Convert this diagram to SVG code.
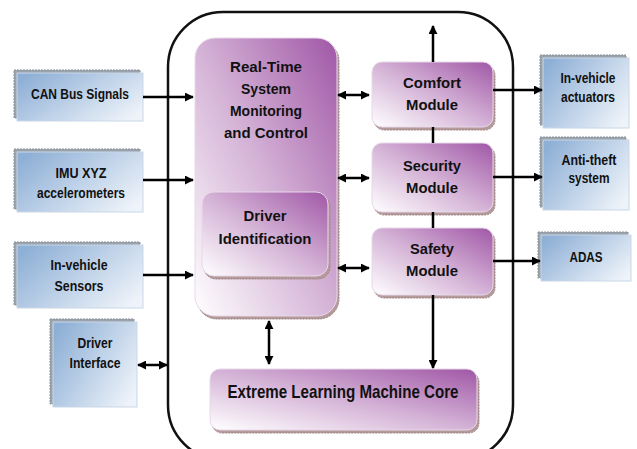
<svg xmlns="http://www.w3.org/2000/svg" width="637" height="449" viewBox="0 0 637 449">
<defs>
<linearGradient id="blue" x1="0" y1="0.2" x2="1" y2="0.8">
<stop offset="0" stop-color="#8fb0d6"/><stop offset="0.55" stop-color="#c3d5ea"/><stop offset="1" stop-color="#eef3f9"/>
</linearGradient>
<linearGradient id="purple" x1="1" y1="0" x2="0" y2="1">
<stop offset="0" stop-color="#a057a6"/><stop offset="0.5" stop-color="#d4b2d6"/><stop offset="1" stop-color="#ffffff"/>
</linearGradient>
<marker id="ah" viewBox="0 0 10 10" refX="9" refY="5" markerWidth="9" markerHeight="9" markerUnits="userSpaceOnUse" orient="auto-start-reverse">
<path d="M0,0 L10,5 L0,10 z" fill="#000"/>
</marker>
</defs>
<style>
.bsh{fill:#9aa3ad;stroke:#8a939c;stroke-width:1;stroke-dasharray:2 1}
.bx{fill:url(#blue);stroke:#c9d7e8;stroke-width:1}
.psh{fill:#b49a9a;stroke:#a08585;stroke-width:1;stroke-dasharray:2 1}
.px{fill:url(#purple);stroke:#e8d8ea;stroke-width:1}
text{font-family:"Liberation Sans",Arial,sans-serif;font-weight:bold;font-size:15.5px;fill:#111;text-anchor:middle}
.big{font-size:18.5px}
.c{fill:none;stroke:#000;stroke-width:2.5}
.a{marker-end:url(#ah)}
.d{marker-start:url(#ah);marker-end:url(#ah)}
</style>
<rect x="168" y="12" width="345" height="448" rx="55" fill="#fff" stroke="#111" stroke-width="2.5"/>
<g id="can">
<rect class="bsh" x="14" y="70" width="126" height="48"/>
<rect class="bx" x="17" y="73" width="126" height="48"/>
<text x="80" y="99" textLength="98" lengthAdjust="spacingAndGlyphs">CAN Bus Signals</text>
</g>
<g id="imu">
<rect class="bsh" x="14" y="149" width="126" height="60"/>
<rect class="bx" x="17" y="152" width="126" height="60"/>
<text x="81" y="178" textLength="51" lengthAdjust="spacingAndGlyphs">IMU XYZ</text>
<text x="81" y="198" textLength="88" lengthAdjust="spacingAndGlyphs">accelerometers</text>
</g>
<g id="sensors">
<rect class="bsh" x="14" y="242" width="126" height="63"/>
<rect class="bx" x="17" y="245" width="126" height="63"/>
<text x="79" y="270" textLength="57" lengthAdjust="spacingAndGlyphs">In-vehicle</text>
<text x="79" y="291" textLength="49" lengthAdjust="spacingAndGlyphs">Sensors</text>
</g>
<g id="driverif">
<rect class="bsh" x="50" y="319" width="84" height="85"/>
<rect class="bx" x="53" y="322" width="84" height="85"/>
<text x="95" y="348" textLength="35" lengthAdjust="spacingAndGlyphs">Driver</text>
<text x="95" y="368" textLength="51" lengthAdjust="spacingAndGlyphs">Interface</text>
</g>
<g id="rtsmc">
<rect class="psh" x="197" y="41" width="142" height="278" rx="20"/>
<rect class="px" x="195" y="38" width="142" height="278" rx="20"/>
<text x="266" y="72" textLength="72" lengthAdjust="spacingAndGlyphs">Real-Time</text>
<text x="266" y="94" textLength="50" lengthAdjust="spacingAndGlyphs">System</text>
<text x="266" y="116" textLength="72" lengthAdjust="spacingAndGlyphs">Monitoring</text>
<text x="266" y="138" textLength="84" lengthAdjust="spacingAndGlyphs">and Control</text>
</g>
<g id="driverid">
<rect class="psh" x="204" y="195" width="126" height="84" rx="12"/>
<rect class="px" x="202" y="192" width="126" height="84" rx="12"/>
<text x="265" y="221" textLength="43" lengthAdjust="spacingAndGlyphs">Driver</text>
<text x="265" y="244" textLength="93" lengthAdjust="spacingAndGlyphs">Identification</text>
</g>
<g id="comfort">
<rect class="psh" x="374" y="65" width="121" height="65" rx="10"/>
<rect class="px" x="372" y="62" width="121" height="65" rx="10"/>
<text x="432" y="88" textLength="58" lengthAdjust="spacingAndGlyphs">Comfort</text>
<text x="432" y="110" textLength="52" lengthAdjust="spacingAndGlyphs">Module</text>
</g>
<g id="security">
<rect class="psh" x="374" y="146" width="121" height="69" rx="10"/>
<rect class="px" x="372" y="143" width="121" height="69" rx="10"/>
<text x="432" y="171" textLength="58" lengthAdjust="spacingAndGlyphs">Security</text>
<text x="432" y="193" textLength="52" lengthAdjust="spacingAndGlyphs">Module</text>
</g>
<g id="safety">
<rect class="psh" x="374" y="231" width="121" height="67" rx="10"/>
<rect class="px" x="372" y="228" width="121" height="67" rx="10"/>
<text x="432" y="254" textLength="44" lengthAdjust="spacingAndGlyphs">Safety</text>
<text x="432" y="276" textLength="52" lengthAdjust="spacingAndGlyphs">Module</text>
</g>
<g id="actuators">
<rect class="bsh" x="540" y="55" width="86" height="70"/>
<rect class="bx" x="543" y="58" width="86" height="70"/>
<text x="588" y="83" textLength="55" lengthAdjust="spacingAndGlyphs">In-vehicle</text>
<text x="588" y="102" textLength="54" lengthAdjust="spacingAndGlyphs">actuators</text>
</g>
<g id="antitheft">
<rect class="bsh" x="540" y="137" width="86" height="70"/>
<rect class="bx" x="543" y="140" width="86" height="70"/>
<text x="589" y="165" textLength="55" lengthAdjust="spacingAndGlyphs">Anti-theft</text>
<text x="589" y="183" textLength="41" lengthAdjust="spacingAndGlyphs">system</text>
</g>
<g id="adas">
<rect class="bsh" x="538" y="232" width="90" height="46"/>
<rect class="bx" x="541" y="235" width="90" height="46"/>
<text x="586" y="262" textLength="33" lengthAdjust="spacingAndGlyphs">ADAS</text>
</g>
<g id="elm">
<rect class="psh" x="212" y="372" width="267" height="61" rx="10"/>
<rect class="px" x="210" y="369" width="267" height="61" rx="10"/>
<text class="big" x="343" y="398" textLength="231" lengthAdjust="spacingAndGlyphs">Extreme Learning Machine Core</text>
</g>
<g id="connectors">
<path class="c a" d="M143,97 H193"/>
<path class="c a" d="M143,180 H193"/>
<path class="c a" d="M143,275 H193"/>
<path class="c d" d="M138,365 H167"/>
<path class="c d" d="M338,95 H369"/>
<path class="c d" d="M338,178 H369"/>
<path class="c d" d="M338,268 H369"/>
<path class="c a" d="M433,62 V26"/>
<path class="c" d="M433,127 V143"/>
<path class="c" d="M433,212 V228"/>
<path class="c a" d="M433,295 V368"/>
<path class="c d" d="M269,321 V364"/>
<path class="c a" d="M493,90 H542"/>
<path class="c a" d="M493,177 H542"/>
<path class="c a" d="M493,261 H540"/>
</g>
</svg>
